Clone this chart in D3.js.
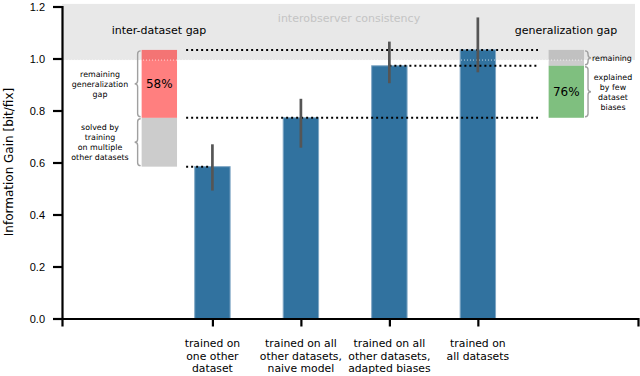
<!DOCTYPE html>
<html>
<head>
<meta charset="utf-8">
<script src="https://cdn.jsdelivr.net/npm/d3@7"></script>
<style>
  body { margin: 0; background: #fff; }
  svg { font-family: "DejaVu Sans", sans-serif; }
</style>
</head>
<body>
<svg id="chart" width="640" height="376"></svg>
<script>
// data
var categories = [
  ['trained on', 'one other', 'dataset'],
  ['trained on all', 'other datasets,', 'naive model'],
  ['trained on all', 'other datasets,', 'adapted biases'],
  ['trained on', 'all datasets']
]
var gains = [0.584, 0.772, 0.972, 1.033]
var errLow = [0.492, 0.657, 0.905, 0.947]
var errHigh = [0.670, 0.845, 1.065, 1.158]
var yTicks = [0, 0.2, 0.4, 0.6, 0.8, 1.0, 1.2]
var interobserver = [0.994, 1.21]
var leftGapPct = '58%'
var rightGapPct = '76%'

var svg = d3.select('#chart')

// bar slots 1..4, side annotation bars at 0.4 and 5
var x = d3.scaleLinear().domain([-0.7, 5.81]).range([62, 638])
var y = d3.scaleLinear().domain([0, 1.2]).range([318.5, 6.5])
var bw = 0.4
var pos = [1, 2, 3, 4]

// interobserver band
svg.append('rect')
  .attr('x', x(-0.7)).attr('width', 573)
  .attr('y', y(interobserver[1])).attr('height', y(interobserver[0]) - y(interobserver[1]))
  .attr('fill', '#e8e8e8')

svg.append('text')
  .attr('x', 349).attr('y', 22)
  .attr('text-anchor', 'middle')
  .style('font-size', '11px').attr('fill', '#c4c4c4')
  .text('interobserver consistency')

svg.append('text')
  .attr('x', 159).attr('y', 34).attr('text-anchor', 'middle')
  .style('font-size', '11px')
  .text('inter-dataset gap')

svg.append('text')
  .attr('x', 566).attr('y', 34).attr('text-anchor', 'middle')
  .style('font-size', '11px')
  .text('generalization gap')

// bars
svg.append('g').selectAll('rect')
  .data(gains)
  .enter().append('rect')
  .attr('x', function(d, i) { return x(pos[i] - bw / 2) })
  .attr('width', x(bw) - x(0))
  .attr('y', function(d) { return y(d) })
  .attr('height', function(d) { return y(0) - y(d) })
  .attr('fill', '#31729f')
  .attr('stroke', '#7fa6c4')
  .attr('stroke-width', 1)

// left stacked annotation
var lx = 0.4
svg.append('rect')
  .attr('x', x(lx - bw / 2)).attr('width', x(bw) - x(0))
  .attr('y', y(gains[1])).attr('height', y(gains[0]) - y(gains[1]))
  .attr('fill', '#999').attr('fill-opacity', 0.5)
svg.append('rect')
  .attr('x', x(lx - bw / 2)).attr('width', x(bw) - x(0))
  .attr('y', y(gains[3])).attr('height', y(gains[1]) - y(gains[3]))
  .attr('fill', '#ff0000').attr('fill-opacity', 0.5)
svg.append('text')
  .attr('x', x(lx)).attr('y', y((gains[1] + gains[3]) / 2) + 4.5)
  .attr('text-anchor', 'middle').style('font-size', '12px')
  .text(leftGapPct)

// right stacked annotation
var rx = 5
svg.append('rect')
  .attr('x', x(rx - bw / 2)).attr('width', x(bw) - x(0))
  .attr('y', y(gains[3])).attr('height', y(gains[2]) - y(gains[3]))
  .attr('fill', '#999').attr('fill-opacity', 0.5)
svg.append('rect')
  .attr('x', x(rx - bw / 2)).attr('width', x(bw) - x(0))
  .attr('y', y(gains[2])).attr('height', y(gains[1]) - y(gains[2]))
  .attr('fill', '#008000').attr('fill-opacity', 0.5)
svg.append('text')
  .attr('x', x(rx)).attr('y', y((gains[1] + gains[2]) / 2) + 4.5)
  .attr('text-anchor', 'middle').style('font-size', '12px')
  .text(rightGapPct)

// faint dotted edge of the band
svg.append('line')
  .attr('x1', x(-0.7)).attr('x2', 635)
  .attr('y1', y(interobserver[0])).attr('y2', y(interobserver[0]))
  .attr('stroke', '#fff').attr('stroke-width', 1)
  .attr('stroke-dasharray', '1,2').attr('opacity', 0.7)

// dotted reference lines
var refLines = [
  { v: gains[3], from: 0.703, to: 4.68 },
  { v: gains[2], from: 3, to: 4.68 },
  { v: gains[1], from: 0.703, to: 4.68 },
  { v: gains[0], from: 0.703, to: 1 }
]
svg.append('g').selectAll('line')
  .data(refLines)
  .enter().append('line')
  .attr('x1', function(d) { return x(d.from) })
  .attr('x2', function(d) { return x(d.to) })
  .attr('y1', function(d) { return y(d.v) })
  .attr('y2', function(d) { return y(d.v) })
  .attr('stroke', '#000').attr('stroke-width', 2)
  .attr('stroke-dasharray', '2,3')

// error bars
svg.append('g').selectAll('line')
  .data(gains)
  .enter().append('line')
  .attr('x1', function(d, i) { return x(pos[i]) })
  .attr('x2', function(d, i) { return x(pos[i]) })
  .attr('y1', function(d, i) { return y(errLow[i]) })
  .attr('y2', function(d, i) { return y(errHigh[i]) })
  .attr('stroke', '#555').attr('stroke-width', 2.7)

// curly braces
function brace(x0, y1, y2, dir, w) {
  var q = w / 2, ym = (y1 + y2) / 2
  return ['M', x0, y1,
    'Q', x0 + dir * q, y1, x0 + dir * q, y1 + q,
    'L', x0 + dir * q, ym - q,
    'Q', x0 + dir * q, ym, x0 + dir * w, ym,
    'Q', x0 + dir * q, ym, x0 + dir * q, ym + q,
    'L', x0 + dir * q, y2 - q,
    'Q', x0 + dir * q, y2, x0, y2].join(' ')
}
var braces = [
  { x: x(lx - bw / 2) - 1, a: gains[3], b: gains[1], dir: -1 },
  { x: x(lx - bw / 2) - 1, a: gains[1], b: gains[0], dir: -1 },
  { x: x(rx + bw / 2) + 1, a: gains[3], b: gains[2], dir: 1 },
  { x: x(rx + bw / 2) + 1, a: gains[2], b: gains[1], dir: 1 }
]
svg.append('g').selectAll('path')
  .data(braces)
  .enter().append('path')
  .attr('d', function(d) { return brace(d.x, y(d.a) + 1, y(d.b) - 1, d.dir, 6) })
  .attr('fill', 'none').attr('stroke', '#a0a0a0').attr('stroke-width', 1.4)

// small annotation labels
function multiLabel(lines, cx, cy, anchor) {
  var t = svg.append('text')
    .attr('text-anchor', anchor || 'middle')
    .style('font-size', '7.9px')
  var lh = 10
  var y0 = cy - (lines.length - 1) * lh / 2 + 2.8
  lines.forEach(function(s, i) {
    t.append('tspan').attr('x', cx).attr('y', y0 + i * lh).text(s)
  })
}
multiLabel(['remaining', 'generalization', 'gap'], 100, y((gains[1] + gains[3]) / 2))
multiLabel(['solved by', 'training', 'on multiple', 'other datasets'], 100, y((gains[0] + gains[1]) / 2))
multiLabel(['remaining'], 592, y((gains[2] + gains[3]) / 2), 'start')
multiLabel(['explained', 'by few', 'dataset', 'biases'], 613, y((gains[1] + gains[2]) / 2))

// axes
var yAxis = d3.axisLeft(y).tickValues(yTicks).tickFormat(d3.format('.1f')).tickSizeOuter(0).tickSize(9).tickPadding(8)
var gy = svg.append('g').attr('transform', 'translate(' + x(-0.7) + ',0)').call(yAxis)
gy.select('.domain').attr('stroke-width', 2.2)
gy.selectAll('.tick line').attr('stroke-width', 2.2)
gy.selectAll('.tick text').style('font-size', '11px').attr('fill', '#000')

var xAxis = d3.axisBottom(x).tickValues(pos).tickFormat('').tickSizeOuter(0).tickSize(8)
var gx = svg.append('g').attr('transform', 'translate(0,' + y(0) + ')').call(xAxis)
gx.select('.domain').attr('stroke-width', 2.2)
gx.selectAll('.tick line').attr('stroke-width', 2.2)

var xl = svg.append('g').selectAll('text')
  .data(categories)
  .enter().append('text')
  .attr('text-anchor', 'middle')
  .style('font-size', '10.8px')
xl.each(function(d, i) {
  var t = d3.select(this)
  d.forEach(function(s, j) {
    t.append('tspan').attr('x', x(pos[i])).attr('y', 347 + j * 12.6).text(s)
  })
})

svg.append('text')
  .attr('transform', 'translate(12.5,' + 162 + ') rotate(-90)')
  .attr('text-anchor', 'middle')
  .style('font-size', '12px')
  .text('Information Gain [bit/fix]')
</script>
</body>
</html>
